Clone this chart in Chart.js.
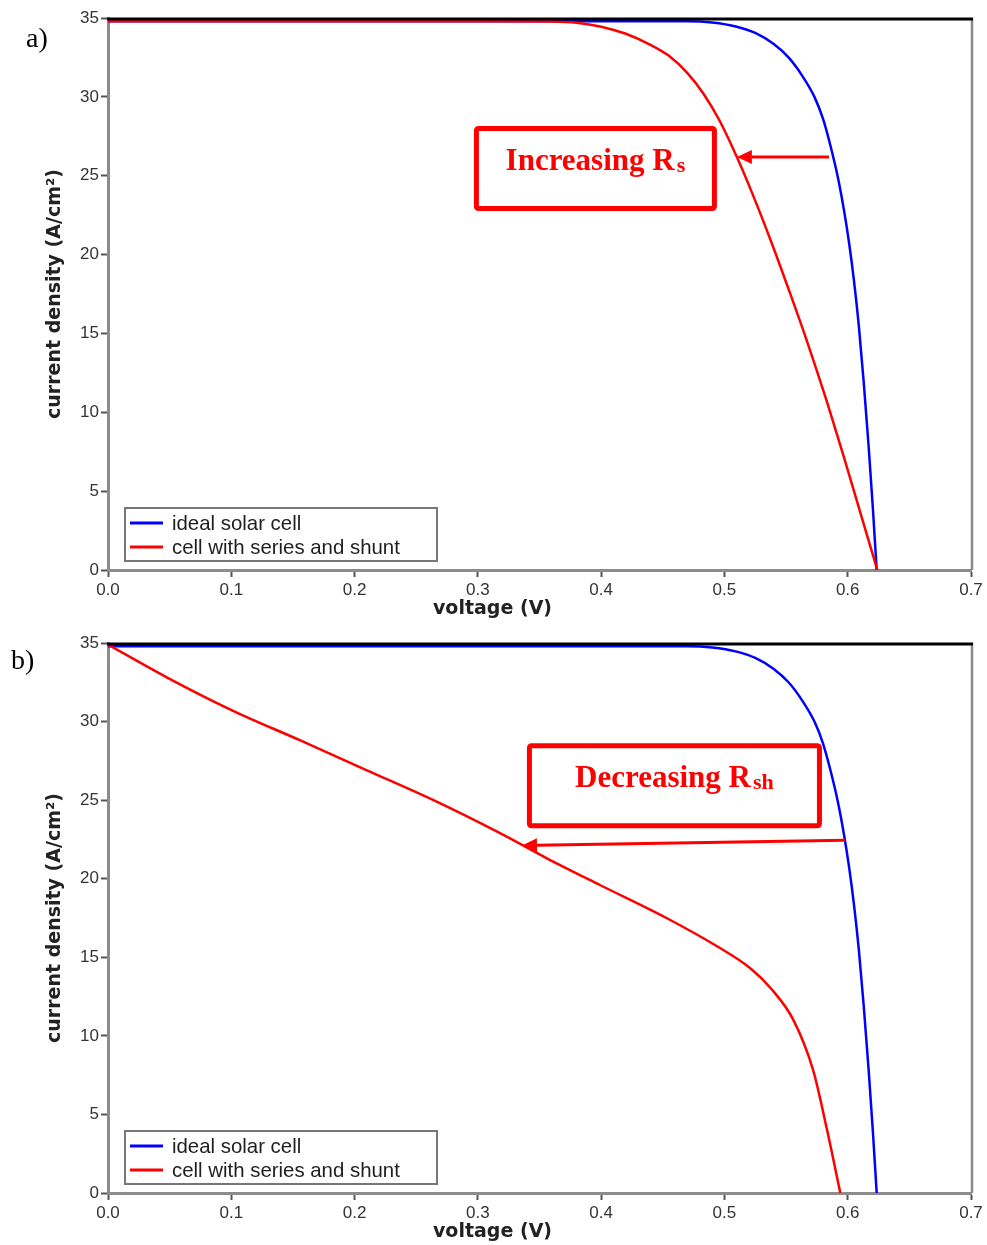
<!DOCTYPE html>
<html>
<head>
<meta charset="utf-8">
<script src="https://cdn.jsdelivr.net/npm/chart.js@4.4.1/dist/chart.umd.min.js"></script>
<style>
  html, body { margin: 0; padding: 0; background: #fff; }
  body { width: 987px; height: 1245px; position: relative; overflow: hidden; }
  .panel { position: absolute; left: 0; width: 987px; }
  #panel-a { top: 0; height: 622px; }
  #panel-b { top: 622px; height: 623px; }
  .tag { position: absolute; font-family: 'Liberation Serif', 'Times New Roman', serif; font-size: 28px; line-height: 28px; color: #000; }
</style>
</head>
<body>
<div class="panel" id="panel-a"><canvas id="chart-a"></canvas></div>
<div class="panel" id="panel-b"><canvas id="chart-b"></canvas></div>
<div class="tag" style="left:26px; top:24px;">a)</div>
<div class="tag" style="left:11px; top:646px;">b)</div>

<script>
// ── Axis ticks & titles ───────────────────────────────
const xTickValues = [0, 0.1, 0.2, 0.3, 0.4, 0.5, 0.6, 0.7];
const xTickLabels = ['0.0', '0.1', '0.2', '0.3', '0.4', '0.5', '0.6', '0.7'];
const yTickValues = [0, 5, 10, 15, 20, 25, 30, 35];
const yTickLabels = ['0', '5', '10', '15', '20', '25', '30', '35'];
const xTitle = 'voltage (V)';
const yTitle = 'current density (A/cm²)';
const seriesNames = ['ideal solar cell', 'cell with series and shunt'];

// ── Curves ────────────────────────────────────────────
const idealVoltage = [0, 0.1, 0.2, 0.3, 0.4, 0.47, 0.49, 0.51, 0.525, 0.54, 0.552, 0.563, 0.573, 0.58, 0.586, 0.592, 0.597, 0.601, 0.605, 0.609, 0.613, 0.617, 0.6205, 0.6235];
const idealCurrent = [34.8, 34.8, 34.8, 34.8, 34.8, 34.8, 34.72, 34.45, 34.05, 33.35, 32.5, 31.35, 30.0, 28.6, 26.9, 24.9, 22.8, 20.8, 18.4, 15.5, 11.9, 7.8, 3.8, 0];

// a) series resistance
const seriesVoltage = [0, 0.1, 0.2, 0.3, 0.36, 0.38, 0.40, 0.42, 0.44, 0.455, 0.47, 0.483, 0.496, 0.510, 0.523, 0.538, 0.553, 0.567, 0.583, 0.596, 0.610, 0.624];
const seriesCurrent = [34.8, 34.8, 34.8, 34.8, 34.78, 34.7, 34.45, 34.0, 33.3, 32.6, 31.5, 30.2, 28.5, 26.2, 23.8, 20.8, 17.6, 14.5, 10.7, 7.4, 3.7, 0];

// b) shunt resistance
const shuntVoltage = [0, 0.048, 0.101, 0.156, 0.210, 0.264, 0.318, 0.356, 0.399, 0.453, 0.494, 0.521, 0.539, 0.556, 0.572, 0.583, 0.594];
const shuntCurrent = [34.9, 32.8, 30.7, 28.8, 26.9, 25.0, 22.9, 21.3, 19.6, 17.5, 15.7, 14.3, 12.9, 11.0, 7.8, 4.1, 0];

Chart.defaults.font.family = "'Liberation Sans', Arial, sans-serif";
Chart.defaults.color = '#2a2a2a';

const toPoints = (vs, js) => vs.map((v, i) => ({ x: v, y: js[i] }));

// ── Plot frame: black top edge, grey right edge ───────
const frame = {
  id: 'frame',
  afterDatasetsDraw(chart) {
    const { ctx, chartArea: a } = chart;
    ctx.save();
    ctx.strokeStyle = '#8a8a8a';
    ctx.lineWidth = 2.5;
    ctx.beginPath();
    ctx.moveTo(a.right + 1, a.top);
    ctx.lineTo(a.right + 1, a.bottom);
    ctx.stroke();
    ctx.strokeStyle = '#000';
    ctx.lineWidth = 3;
    ctx.beginPath();
    ctx.moveTo(a.left - 1, a.top + 1);
    ctx.lineTo(a.right + 2, a.top + 1);
    ctx.stroke();
    ctx.restore();
  },
};

// ── Legend box in lower-left corner ──────────────────
const boxLegend = {
  id: 'boxLegend',
  afterDatasetsDraw(chart) {
    const { ctx, chartArea: a } = chart;
    const bx = a.left + 17, by = a.bottom - 62, bw = 312, bh = 53;
    ctx.save();
    ctx.fillStyle = '#fff';
    ctx.fillRect(bx, by, bw, bh);
    ctx.strokeStyle = '#777';
    ctx.lineWidth = 2;
    ctx.strokeRect(bx, by, bw, bh);
    ctx.font = "20.4px 'Liberation Sans', Arial, sans-serif";
    ctx.textBaseline = 'middle';
    chart.data.datasets.forEach((ds, i) => {
      const ly = by + 15 + i * 24;
      ctx.strokeStyle = ds.borderColor;
      ctx.lineWidth = 3;
      ctx.beginPath();
      ctx.moveTo(bx + 5, ly);
      ctx.lineTo(bx + 38, ly);
      ctx.stroke();
      ctx.fillStyle = '#1e1e1e';
      ctx.fillText(ds.label, bx + 47, ly + 1);
    });
    ctx.restore();
  },
};

// ── Axis titles (x title sits left of centre) ─────────
const axisTitles = {
  id: 'axisTitles',
  afterDraw(chart) {
    const { ctx, chartArea: a } = chart;
    ctx.save();
    ctx.font = "bold 19px 'DejaVu Sans', Verdana, sans-serif";
    ctx.fillStyle = '#222';
    ctx.textAlign = 'center';
    ctx.textBaseline = 'middle';
    ctx.fillText(xTitle, (a.left + a.right) / 2 - 47, a.bottom + 39);
    ctx.translate(55, (a.top + a.bottom) / 2);
    ctx.rotate(-Math.PI / 2);
    ctx.fillText(yTitle, 0, 0);
    ctx.restore();
  },
};

// ── Red callout box + arrow (data coordinates) ────────
const callout = {
  id: 'callout',
  afterDatasetsDraw(chart, args, o) {
    if (!o || !o.text) return;
    const { ctx, scales: { x, y } } = chart;
    const L = x.getPixelForValue(o.box[0]), R = x.getPixelForValue(o.box[1]);
    const T = y.getPixelForValue(o.box[2]), B = y.getPixelForValue(o.box[3]);
    ctx.save();
    ctx.strokeStyle = '#ff0000';
    ctx.fillStyle = '#ff0000';
    ctx.lineWidth = 5;
    ctx.lineJoin = 'round';
    ctx.beginPath();
    ctx.roundRect(L + 2.5, T + 2.5, R - L - 5, B - T - 5, 2);
    ctx.stroke();

    const mainFont = "bold 31px 'Liberation Serif', 'Times New Roman', serif";
    const subFont = "bold 22px 'Liberation Serif', 'Times New Roman', serif";
    ctx.font = mainFont;
    const w1 = ctx.measureText(o.text).width + 2;
    ctx.font = subFont;
    const w2 = ctx.measureText(o.sub).width;
    const tx = (L + R) / 2 - (w1 + w2) / 2;
    const base = T + 44;
    ctx.textBaseline = 'alphabetic';
    ctx.font = mainFont;
    ctx.fillText(o.text, tx, base);
    ctx.font = subFont;
    ctx.fillText(o.sub, tx + w1, base + 2);

    const x0 = x.getPixelForValue(o.arrow[0]), y0 = y.getPixelForValue(o.arrow[1]);
    const x1 = x.getPixelForValue(o.arrow[2]), y1 = y.getPixelForValue(o.arrow[3]);
    const ang = Math.atan2(y1 - y0, x1 - x0);
    const hl = 15, hw = 7;
    ctx.lineWidth = 3;
    ctx.beginPath();
    ctx.moveTo(x0, y0);
    ctx.lineTo(x1 - Math.cos(ang) * hl, y1 - Math.sin(ang) * hl);
    ctx.stroke();
    ctx.beginPath();
    ctx.moveTo(x1, y1);
    ctx.lineTo(x1 - Math.cos(ang) * hl - Math.sin(ang) * hw, y1 - Math.sin(ang) * hl + Math.cos(ang) * hw);
    ctx.lineTo(x1 - Math.cos(ang) * hl + Math.sin(ang) * hw, y1 - Math.sin(ang) * hl - Math.cos(ang) * hw);
    ctx.closePath();
    ctx.fill();
    ctx.restore();
  },
};

function makeChart(canvasId, redVoltage, redCurrent, topPad, note) {
  return new Chart(document.getElementById(canvasId), {
    type: 'line',
    data: {
      datasets: [
        {
          label: seriesNames[0],
          data: toPoints(idealVoltage, idealCurrent),
          borderColor: '#0000ff',
          borderWidth: 2.5,
          pointRadius: 0,
          fill: false,
          cubicInterpolationMode: 'monotone',
          order: 2,
        },
        {
          label: seriesNames[1],
          data: toPoints(redVoltage, redCurrent),
          borderColor: '#ff0000',
          borderWidth: 2.5,
          pointRadius: 0,
          fill: false,
          cubicInterpolationMode: 'monotone',
          order: 1,
        },
      ],
    },
    options: {
      responsive: true,
      maintainAspectRatio: false,
      animation: false,
      layout: { padding: { top: topPad, right: 16, left: 0, bottom: 0 } },
      plugins: {
        legend: { display: false },
        tooltip: { enabled: false },
        callout: note,
      },
      scales: {
        x: {
          type: 'linear',
          min: 0,
          max: 0.7,
          afterBuildTicks: s => { s.ticks = xTickValues.map(value => ({ value })); },
          afterFit: s => { s.height = 52; },
          ticks: {
            callback: (v, i) => xTickLabels[i],
            autoSkip: false,
            maxRotation: 0,
            padding: 3,
            color: '#333',
            font: { size: 17 },
          },
          grid: { drawOnChartArea: false, tickLength: 7, tickWidth: 2, tickColor: '#555' },
          border: { color: '#8c8c8c', width: 3 },
        },
        y: {
          type: 'linear',
          min: 0,
          max: 35,
          afterBuildTicks: s => { s.ticks = yTickValues.map(value => ({ value })); },
          afterFit: s => { s.width = 108; },
          ticks: {
            callback: (v, i) => yTickLabels[i],
            autoSkip: false,
            padding: 2,
            color: '#333',
            font: { size: 17 },
          },
          grid: { drawOnChartArea: false, tickLength: 7, tickWidth: 2, tickColor: '#555' },
          border: { color: '#8c8c8c', width: 3 },
        },
      },
    },
    plugins: [frame, callout, boxLegend, axisTitles],
  });
}

makeChart('chart-a', seriesVoltage, seriesCurrent, 18, {
  text: 'Increasing R',
  sub: 's',
  box: [0.2968, 0.4939, 28.15, 22.76],
  arrow: [0.5848, 26.19, 0.5101, 26.19],
});

makeChart('chart-b', shuntVoltage, shuntCurrent, 21, {
  text: 'Decreasing R',
  sub: 'sh',
  box: [0.3398, 0.5791, 28.62, 23.21],
  arrow: [0.5977, 22.44, 0.3358, 22.12],
});
</script>
</body>
</html>
